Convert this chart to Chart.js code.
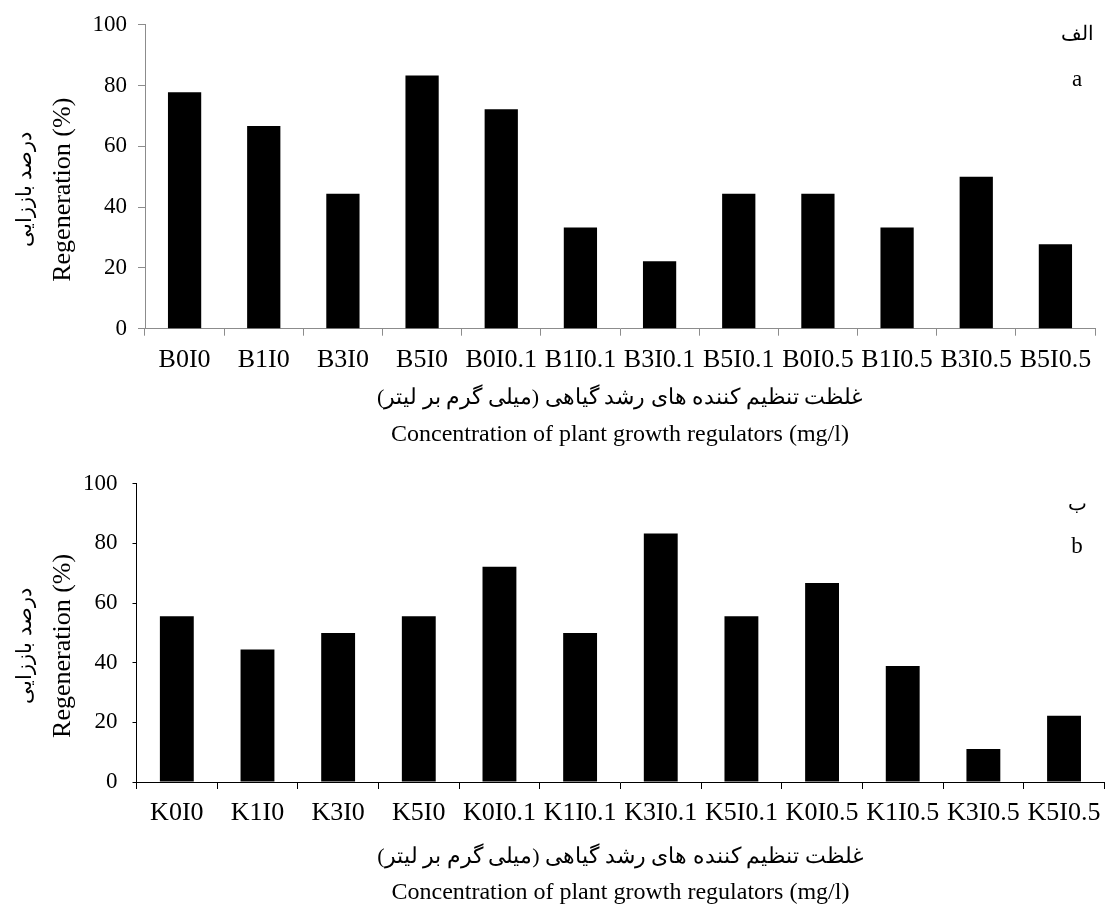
<!DOCTYPE html>
<html>
<head>
<meta charset="utf-8">
<title>Regeneration</title>
<script src="https://cdn.jsdelivr.net/npm/chart.js@4.4.0/dist/chart.umd.min.js"></script>
<style>
    html, body { margin: 0; padding: 0; background: #fff; }
    canvas { display: block; }
</style>
</head>
<body>
<canvas id="chartA" width="1109" height="455"></canvas>
<canvas id="chartB" width="1109" height="453"></canvas>
<script>
// DATA
const labelsA = ['B0I0', 'B1I0', 'B3I0', 'B5I0', 'B0I0.1', 'B1I0.1', 'B3I0.1', 'B5I0.1', 'B0I0.5', 'B1I0.5', 'B3I0.5', 'B5I0.5'];
const valuesA = [77.8, 66.7, 44.4, 83.3, 72.2, 33.3, 22.2, 44.4, 44.4, 33.3, 50.0, 27.8];

const labelsB = ['K0I0', 'K1I0', 'K3I0', 'K5I0', 'K0I0.1', 'K1I0.1', 'K3I0.1', 'K5I0.1', 'K0I0.5', 'K1I0.5', 'K3I0.5', 'K5I0.5'];
const valuesB = [55.6, 44.4, 50.0, 55.6, 72.2, 50.0, 83.3, 55.6, 66.7, 38.9, 11.1, 22.2];

const yTicks = [0, 20, 40, 60, 80, 100];

// RLM marks keep the Persian lines in right-to-left order
const yTitleFa = '\u200Fدرصد باززایی\u200F';
const yTitleEn = 'Regeneration (%)';
const xTitleFa = '\u200Fغلظت تنظیم کننده های رشد گیاهی (میلی گرم بر لیتر)\u200F';
const xTitleEn = 'Concentration of plant growth regulators (mg/l)';
const tagsA = ['الف', 'a'];
const tagsB = ['ب', 'b'];

const SERIF = '"Liberation Serif", "Times New Roman", serif';

document.addEventListener('DOMContentLoaded', () => {
    Chart.defaults.color = '#000';
    Chart.defaults.font.family = SERIF;

    // --- extra text: Persian titles, rotated y title, panel letters ---
    const extraText = {
        id: 'extraText',
        afterDraw(chart, args, opts) {
            const ctx = chart.ctx;
            const area = chart.chartArea;
            const midX = (area.left + area.right) / 2;
            const midY = (area.top + area.bottom) / 2 + 13;
            ctx.save();
            ctx.fillStyle = '#000';
            ctx.textAlign = 'center';
            ctx.textBaseline = 'middle';

            // y title, two rotated lines
            ctx.save();
            ctx.translate(25, midY);
            ctx.rotate(-Math.PI / 2);
            ctx.font = '21px ' + SERIF;
            ctx.fillText(yTitleFa, 0, 0);
            ctx.restore();
            ctx.save();
            ctx.translate(63, midY);
            ctx.rotate(-Math.PI / 2);
            ctx.font = '26px ' + SERIF;
            ctx.fillText(yTitleEn, 0, 0);
            ctx.restore();

            // Persian x title above the English one
            ctx.font = '22px ' + SERIF;
            ctx.fillText(xTitleFa, midX, opts.faY);

            // panel letters
            ctx.font = '20px ' + SERIF;
            ctx.fillText(opts.tags[0], 1077, opts.tagY[0]);
            ctx.font = '23px ' + SERIF;
            ctx.fillText(opts.tags[1], 1077, opts.tagY[1]);
            ctx.restore();
        }
    };

    function makeChart(id, labels, values, g) {
        const ctx = document.getElementById(id).getContext('2d');
        return new Chart(ctx, {
            type: 'bar',
            data: {
                labels: labels,
                datasets: [{ data: values, backgroundColor: '#000', borderWidth: 0, barPercentage: 0.42, categoryPercentage: 1 }]
            },
            plugins: [extraText],
            options: {
                responsive: false,
                animation: false,
                layout: { padding: { top: g.top, right: g.right, left: 0, bottom: 0 } },
                plugins: {
                    legend: { display: false },
                    tooltip: { enabled: false },
                    extraText: { tags: g.tags, tagY: g.tagY, faY: g.faY }
                },
                scales: {
                    x: {
                        grid: { display: true, drawOnChartArea: false, offset: true, tickLength: 7, color: g.axis },
                        border: { display: true, color: g.axis, width: 1 },
                        ticks: { font: { size: 26 }, padding: g.xPad, maxRotation: 0, autoSkip: false },
                        title: { display: true, text: xTitleEn, font: { size: 24, lineHeight: '36px' }, padding: { top: 0, bottom: g.xTitlePad } },
                        afterFit: s => { s.height = g.xHeight; }
                    },
                    y: {
                        min: 0, max: 100,
                        afterBuildTicks: s => { s.ticks = yTicks.map(v => ({ value: v })); },
                        grid: { drawOnChartArea: false, tickLength: g.yTick, color: g.axis },
                        border: { display: true, color: g.axis, width: 1 },
                        ticks: { font: { size: 23 }, padding: g.yPad },
                        afterFit: s => { s.width = g.yWidth; }
                    }
                }
            }
        });
    }

    // --- INITIAL LOAD ---
    makeChart('chartA', labelsA, valuesA, {
        top: 24, right: 14, yWidth: 145, xHeight: 126.3, axis: '#8c8c8c',
        xPad: 8.5, xTitlePad: 2, yTick: 7, yPad: 11, faY: 398,
        tags: tagsA, tagY: [35, 80]
    });
    makeChart('chartB', labelsB, valuesB, {
        top: 25, right: 0, yWidth: 136.5, xHeight: 126, axis: '#000',
        xPad: 8.5, xTitlePad: -3, yTick: 4, yPad: 15, faY: 402,
        tags: tagsB, tagY: [50, 92]
    });
});
</script>
</body>
</html>
